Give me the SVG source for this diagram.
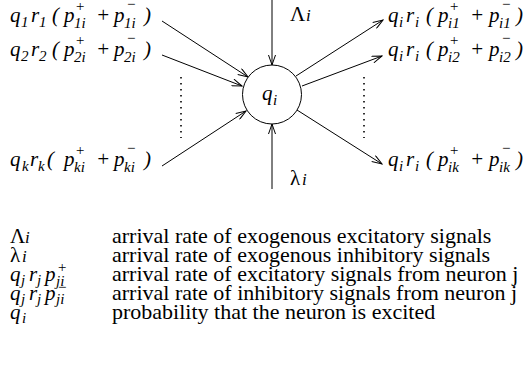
<svg xmlns="http://www.w3.org/2000/svg" width="527" height="369" viewBox="0 0 527 369" font-family="Liberation Serif">
<style>
.m{font-size:21px;font-style:italic;fill:#000}
.s{font-size:15px;font-style:italic;fill:#000}
.si{font-size:17px;font-style:italic;fill:#000}
.u{font-size:21px;fill:#000}
.d{font-size:22px;fill:#000}
.ln{stroke:#000;stroke-width:1;fill:none}
.dot{stroke:#000;stroke-width:1.6;stroke-dasharray:1.6 4.4;fill:none}
</style>
<defs>
<marker id="a" markerWidth="12" markerHeight="8" refX="11" refY="4" orient="auto" markerUnits="userSpaceOnUse">
<path d="M1,0.5 L11,4 L1,7.5" fill="none" stroke="#000" stroke-width="1"/>
</marker>
</defs>
<rect width="527" height="369" fill="#fff"/>
<g id="connectors">
<line class="ln" x1="272" y1="0" x2="272" y2="65" marker-end="url(#a)"/>
<line class="ln" x1="272" y1="189" x2="272" y2="124" marker-end="url(#a)"/>
<line class="ln" x1="162" y1="21" x2="248" y2="77" marker-end="url(#a)"/>
<line class="ln" x1="162" y1="55" x2="242" y2="86" marker-end="url(#a)"/>
<line class="ln" x1="162" y1="166" x2="246" y2="111" marker-end="url(#a)"/>
<line class="ln" x1="296" y1="76" x2="383" y2="20" marker-end="url(#a)"/>
<line class="ln" x1="302" y1="86" x2="382" y2="56" marker-end="url(#a)"/>
<line class="ln" x1="297" y1="110" x2="382" y2="164" marker-end="url(#a)"/>
<line class="dot" x1="181" y1="77" x2="181" y2="138"/>
<line class="dot" x1="364" y1="77" x2="364" y2="138"/>
</g>
<g id="neuron" font-family="Liberation Serif">
<circle cx="272" cy="94.5" r="29.5" fill="#fff" stroke="#000" stroke-width="1"/>
<text class="m" x="262" y="100">q</text><text class="s" x="273" y="105">i</text>
</g>
<g id="Lambda" font-family="Liberation Serif">
<text class="u" x="290" y="21">Λ</text><text class="si" x="306" y="21">i</text>
</g>
<g id="lambda" font-family="Liberation Serif">
<text class="u" x="290" y="185">λ</text><text class="si" x="302" y="185">i</text>
</g>
<g id="in1" font-family="Liberation Serif">
<text class="m" x="10" y="22">q</text><text class="s" x="21" y="27">1</text>
<text class="m" x="31" y="22">r</text><text class="s" x="39" y="27">1</text>
<text class="m" x="52" y="22">(</text>
<text class="m" x="64" y="22">p</text><text class="s" x="75" y="11">+</text><text class="s" x="74" y="28">1i</text>
<text class="m" x="96" y="22">+</text>
<text class="m" x="114" y="22">p</text><text class="s" x="126" y="9">−</text><text class="s" x="124" y="28">1i</text>
<text class="m" x="144" y="22">)</text>
</g>
<g id="in2" font-family="Liberation Serif">
<text class="m" x="10" y="56">q</text><text class="s" x="21" y="61">2</text>
<text class="m" x="31" y="56">r</text><text class="s" x="39" y="61">2</text>
<text class="m" x="52" y="56">(</text>
<text class="m" x="64" y="56">p</text><text class="s" x="75" y="45">+</text><text class="s" x="74" y="62">2i</text>
<text class="m" x="96" y="56">+</text>
<text class="m" x="114" y="56">p</text><text class="s" x="126" y="43">−</text><text class="s" x="124" y="62">2i</text>
<text class="m" x="144" y="56">)</text>
</g>
<g id="ink" font-family="Liberation Serif">
<text class="m" x="10" y="166">q</text><text class="s" x="22" y="171">k</text>
<text class="m" x="30" y="166">r</text><text class="s" x="38" y="171">k</text>
<text class="m" x="47" y="166">(</text>
<text class="m" x="64" y="166">p</text><text class="s" x="75" y="155">+</text><text class="s" x="74" y="172">ki</text>
<text class="m" x="96" y="166">+</text>
<text class="m" x="114" y="166">p</text><text class="s" x="126" y="153">−</text><text class="s" x="124" y="172">ki</text>
<text class="m" x="144" y="166">)</text>
</g>
<g id="out1" font-family="Liberation Serif">
<text class="m" x="388" y="22">q</text><text class="s" x="399" y="27">i</text>
<text class="m" x="406" y="22">r</text><text class="s" x="415" y="27">i</text>
<text class="m" x="426" y="22">(</text>
<text class="m" x="438" y="22">p</text><text class="s" x="449" y="11">+</text><text class="s" x="448" y="28">i1</text>
<text class="m" x="470" y="22">+</text>
<text class="m" x="489" y="22">p</text><text class="s" x="501" y="9">−</text><text class="s" x="499" y="28">i1</text>
<text class="m" x="516" y="22">)</text>
</g>
<g id="out2" font-family="Liberation Serif">
<text class="m" x="388" y="56">q</text><text class="s" x="399" y="61">i</text>
<text class="m" x="406" y="56">r</text><text class="s" x="415" y="61">i</text>
<text class="m" x="426" y="56">(</text>
<text class="m" x="438" y="56">p</text><text class="s" x="449" y="45">+</text><text class="s" x="448" y="62">i2</text>
<text class="m" x="470" y="56">+</text>
<text class="m" x="489" y="56">p</text><text class="s" x="501" y="43">−</text><text class="s" x="499" y="62">i2</text>
<text class="m" x="516" y="56">)</text>
</g>
<g id="outk" font-family="Liberation Serif">
<text class="m" x="388" y="166">q</text><text class="s" x="399" y="171">i</text>
<text class="m" x="406" y="166">r</text><text class="s" x="415" y="171">i</text>
<text class="m" x="426" y="166">(</text>
<text class="m" x="438" y="166">p</text><text class="s" x="449" y="155">+</text><text class="s" x="448" y="172">ik</text>
<text class="m" x="470" y="166">+</text>
<text class="m" x="489" y="166">p</text><text class="s" x="501" y="153">−</text><text class="s" x="499" y="172">ik</text>
<text class="m" x="516" y="166">)</text>
</g>
<g id="legend" font-family="Liberation Serif">
<text class="u" x="10" y="243">Λ</text><text class="si" x="25" y="243">i</text>
<text class="d" x="112" y="243">arrival rate of exogenous excitatory signals</text>
<text class="u" x="10" y="262">λ</text><text class="si" x="22" y="262">i</text>
<text class="d" x="112" y="262">arrival rate of exogenous inhibitory signals</text>
<text class="m" x="10" y="281">q</text><text class="s" x="21" y="285">j</text>
<text class="m" x="29" y="281">r</text><text class="s" x="37" y="285">j</text>
<text class="m" x="45" y="281">p</text><text class="s" x="57" y="272">+</text><text class="s" x="56" y="286">ji</text>
<text class="d" x="112" y="281">arrival rate of excitatory signals from neuron j</text>
<text class="m" x="10" y="300">q</text><text class="s" x="21" y="304">j</text>
<text class="m" x="29" y="300">r</text><text class="s" x="37" y="304">j</text>
<text class="m" x="45" y="300">p</text><text class="s" x="57" y="292">−</text><text class="s" x="56" y="304">ji</text>
<text class="d" x="112" y="300">arrival rate of inhibitory signals from neuron j</text>
<text class="m" x="10" y="319">q</text><text class="s" x="22" y="323">i</text>
<text class="d" x="112" y="319">probability that the neuron is excited</text>
</g>
</svg>
